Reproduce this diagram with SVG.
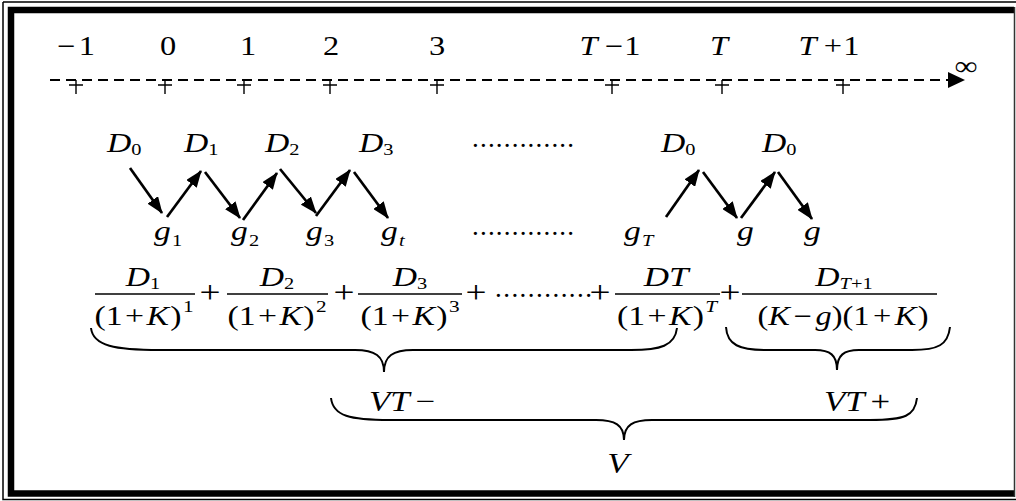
<svg xmlns="http://www.w3.org/2000/svg" width="1016" height="501" viewBox="0 0 1016 501">
<style>
text { font-family: "Liberation Serif","Times New Roman",serif; fill:#000; }
.n { font-size:27px; }
.v { font-size:28px; font-style:italic; }
.p { font-size:31px; }
.i { font-style:italic; }
.s { font-size:17px; font-style:normal; }
.si { font-size:17px; font-style:italic; }
.tick { stroke:#000; stroke-width:1.4; fill:none; }
.arr { stroke:#000; stroke-width:2.7; fill:none; marker-end:url(#ah); }
.brace { stroke:#000; stroke-width:2; fill:none; }
.bar { stroke:#000; stroke-width:1.4; }
</style>
<defs>
<marker id="ah" viewBox="0 0 17 13" refX="16" refY="6.5" markerWidth="17" markerHeight="13" markerUnits="userSpaceOnUse" orient="auto"><path d="M0,0 L17,6.5 L0,13 z" fill="#000"/></marker>
</defs>
<rect x="0" y="0" width="1016" height="501" fill="#fff"/>
<g id="border" fill="none" stroke="#000">
<path d="M3,2 H1016 M3,2 V499.5 H1016" stroke-width="1.5"/>
<path d="M1014,10 H11 V493.5 H1014" stroke-width="6.5"/>
<line x1="1014.5" y1="7" x2="1014.5" y2="497" stroke="#333" stroke-width="1.5"/>
</g>
<g id="timeline">
<line x1="50" y1="80" x2="948" y2="80" stroke="#000" stroke-width="2.2" stroke-dasharray="10 6"/>
<polygon points="948,72 965,80 948,88" fill="#000"/>
<path class="tick" d="M69,85H83M76,80V94 M158,85H172M165,80V94 M237,85H251M244,80V94 M323,85H337M330,80V94 M430,85H444M437,80V94 M605,85H619M612,80V94 M715,85H729M722,80V94 M836,85H850M843,80V94"/>
<text transform="translate(966,75) scale(1.2,1)" text-anchor="middle" style="font-size:27px">∞</text>
</g>
<g id="labels-top">
<text class="n" text-anchor="middle" transform="translate(76,55) scale(1.2,1)">−<tspan dx="3">1</tspan></text>
<text class="n" text-anchor="middle" transform="translate(168,55) scale(1.2,1)">0</text>
<text class="n" text-anchor="middle" transform="translate(248,55) scale(1.2,1)">1</text>
<text class="n" text-anchor="middle" transform="translate(331,55) scale(1.2,1)">2</text>
<text class="n" text-anchor="middle" transform="translate(437,55) scale(1.2,1)">3</text>
<text class="n" text-anchor="middle" transform="translate(610,55) scale(1.2,1)"><tspan class="i">T</tspan><tspan dx="6">−</tspan><tspan dx="1">1</tspan></text>
<text class="n" text-anchor="middle" transform="translate(719,55) scale(1.2,1)"><tspan class="i">T</tspan></text>
<text class="n" text-anchor="middle" transform="translate(829,55) scale(1.2,1)"><tspan class="i">T</tspan><tspan dx="6">+</tspan><tspan dx="1">1</tspan></text>
</g>
<g id="node-D0a"><text class="v" transform="translate(107,152) scale(1.2,1)">D<tspan class="s" dy="3">0</tspan></text></g>
<g id="node-D1"><text class="v" transform="translate(184,152) scale(1.2,1)">D<tspan class="s" dy="3">1</tspan></text></g>
<g id="node-D2"><text class="v" transform="translate(265,152) scale(1.2,1)">D<tspan class="s" dy="3">2</tspan></text></g>
<g id="node-D3"><text class="v" transform="translate(359,152) scale(1.2,1)">D<tspan class="s" dy="3">3</tspan></text></g>
<g id="node-D0b"><text class="v" transform="translate(661,152) scale(1.2,1)">D<tspan class="s" dy="3">0</tspan></text></g>
<g id="node-D0c"><text class="v" transform="translate(762,152) scale(1.2,1)">D<tspan class="s" dy="3">0</tspan></text></g>
<g id="node-g1"><text class="v" transform="translate(154,240) scale(1.2,1)">g<tspan class="s" dy="6" dx="1">1</tspan></text></g>
<g id="node-g2"><text class="v" transform="translate(231,240) scale(1.2,1)">g<tspan class="s" dy="6" dx="1">2</tspan></text></g>
<g id="node-g3"><text class="v" transform="translate(306,240) scale(1.2,1)">g<tspan class="s" dy="6" dx="1">3</tspan></text></g>
<g id="node-gt"><text class="v" transform="translate(381,240) scale(1.2,1)">g<tspan class="si" dy="6" dx="1">t</tspan></text></g>
<g id="node-gT"><text class="v" transform="translate(624,240) scale(1.2,1)">g<tspan class="si" dy="6" dx="1">T</tspan></text></g>
<g id="node-ga"><text class="v" transform="translate(737,240) scale(1.2,1)">g</text></g>
<g id="node-gb"><text class="v" transform="translate(804,240) scale(1.2,1)">g</text></g>
<g id="dots">
<text class="n" x="472" y="146.5" textLength="102" lengthAdjust="spacing">.............</text>
<text class="n" x="472" y="235" textLength="102" lengthAdjust="spacing">.............</text>
</g>
<g id="connectors">
<path class="arr" d="M130,168 L162,213"/>
<path class="arr" d="M167,217 L201,171"/>
<path class="arr" d="M205,172 L240,218"/>
<path class="arr" d="M243,220 L277,173"/>
<path class="arr" d="M280,169 L316,213"/>
<path class="arr" d="M316,216 L350,170"/>
<path class="arr" d="M354,172 L388,218"/>
<path class="arr" d="M666,217 L699,170"/>
<path class="arr" d="M703,172 L737,218"/>
<path class="arr" d="M741,218 L775,172"/>
<path class="arr" d="M778,172 L812,219"/>
</g>
<g id="formula">
<line class="bar" x1="95" y1="294" x2="195" y2="294"/>
<text class="v" text-anchor="middle" transform="translate(143,286) scale(1.2,1)">D<tspan class="s" dy="3">1</tspan></text>
<text class="n" text-anchor="middle" transform="translate(144,325) scale(1.25,1)">(1<tspan dx="2">+</tspan><tspan dx="2" class="i">K</tspan><tspan dx="1">)</tspan><tspan class="s" dy="-13" dx="1">1</tspan></text>
<text class="p" text-anchor="middle" transform="translate(210,302.5) scale(1.2,1)">+</text>
<line class="bar" x1="227" y1="294" x2="328" y2="294"/>
<text class="v" text-anchor="middle" transform="translate(277,286) scale(1.2,1)">D<tspan class="s" dy="3">2</tspan></text>
<text class="n" text-anchor="middle" transform="translate(277,325) scale(1.25,1)">(1<tspan dx="2">+</tspan><tspan dx="2" class="i">K</tspan><tspan dx="1">)</tspan><tspan class="s" dy="-13" dx="1">2</tspan></text>
<text class="p" text-anchor="middle" transform="translate(344,302.5) scale(1.2,1)">+</text>
<line class="bar" x1="358" y1="294" x2="462" y2="294"/>
<text class="v" text-anchor="middle" transform="translate(410,286) scale(1.2,1)">D<tspan class="s" dy="3">3</tspan></text>
<text class="n" text-anchor="middle" transform="translate(410,325) scale(1.25,1)">(1<tspan dx="2">+</tspan><tspan dx="2" class="i">K</tspan><tspan dx="1">)</tspan><tspan class="s" dy="-13" dx="1">3</tspan></text>
<text class="p" text-anchor="middle" transform="translate(476,302.5) scale(1.2,1)">+</text>
<text class="n" x="495" y="297" textLength="97" lengthAdjust="spacing">............</text>
<text class="p" text-anchor="middle" transform="translate(600,302.5) scale(1.2,1)">+</text>
<line class="bar" x1="615" y1="294" x2="720" y2="294"/>
<text class="v" text-anchor="middle" transform="translate(666,286) scale(1.25,1)">DT</text>
<text class="n" text-anchor="middle" transform="translate(667,325) scale(1.25,1)">(1<tspan dx="2">+</tspan><tspan dx="2" class="i">K</tspan><tspan dx="1">)</tspan><tspan class="si" dy="-13" dx="1">T</tspan></text>
<text class="p" text-anchor="middle" transform="translate(730,302.5) scale(1.2,1)">+</text>
<line class="bar" x1="742" y1="294" x2="937" y2="294"/>
<text class="v" text-anchor="middle" transform="translate(844,286) scale(1.2,1)">D<tspan class="si" dy="3">T</tspan><tspan class="s">+1</tspan></text>
<text class="n" text-anchor="middle" transform="translate(843,325) scale(1.2,1)">(<tspan class="i">K</tspan><tspan dx="3">−</tspan><tspan dx="3" class="i">g</tspan>)(1<tspan dx="3">+</tspan><tspan dx="3" class="i">K</tspan><tspan dx="1">)</tspan></text>
</g>
<g id="braces">
<path class="brace" d="M91,328 C93,346 115,350 160,350 L355,350 C375,350 384,356 384,372 C384,356 393,350 413,350 L631,350 C660,350 675,346 677,328"/>
<path class="brace" d="M726,327 C727,345 740,350 765,350 L815,350 C830,350 837,355 837,370 C837,355 844,350 859,350 L912,350 C938,350 948,345 950,327"/>
<path class="brace" d="M331,398 C333,416 350,420 390,420 L596,420 C615,420 624,425 624,440 C624,425 633,420 652,420 L870,420 C905,420 915,416 917,398"/>
</g>
<g id="node-VTminus"><text class="n" text-anchor="middle" transform="translate(402,411) scale(1.2,1)" style="font-size:29px"><tspan class="i">VT</tspan><tspan dx="5">−</tspan></text></g>
<g id="node-VTplus"><text class="n" text-anchor="middle" transform="translate(857,411) scale(1.2,1)" style="font-size:29px"><tspan class="i">VT</tspan><tspan dx="5">+</tspan></text></g>
<g id="node-V"><text class="n" text-anchor="middle" transform="translate(618,473) scale(1.2,1)" style="font-size:29px"><tspan class="i">V</tspan></text></g>
</svg>
